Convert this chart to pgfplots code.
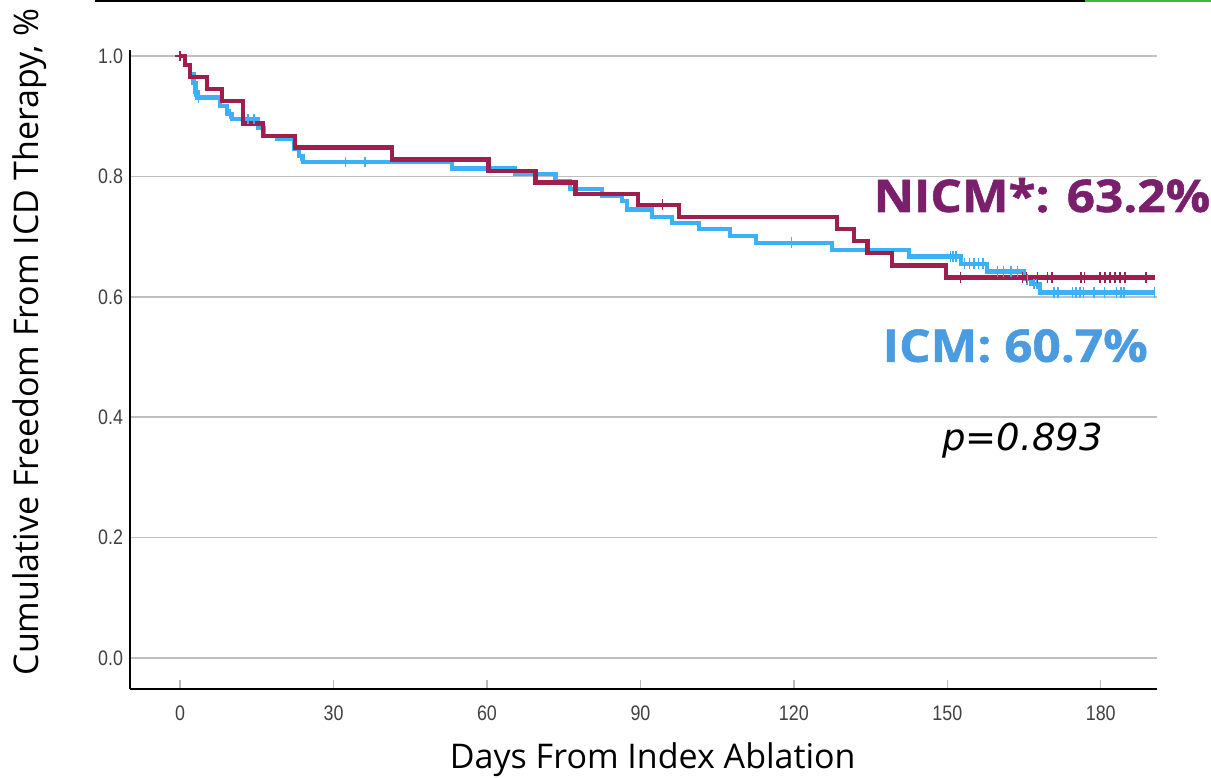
\documentclass[border=0pt]{standalone}
\usepackage{pgfplots}
\pgfplotsset{compat=1.18}
\usepackage{fontspec}
\setmainfont{Open Sans}
\newfontfamily\ticksfont[FakeStretch=0.85]{Liberation Sans}
\newfontfamily\bigfont[FakeStretch=1.1, FakeBold=1.2]{Open Sans}
\newfontfamily\pfont{DejaVu Sans}
\definecolor{nicmline}{HTML}{9E1F4D}
\definecolor{icmline}{HTML}{3DB1F7}
\definecolor{nicmtext}{HTML}{7A1F6C}
\definecolor{icmtext}{HTML}{4A9BE0}
\definecolor{topgreen}{HTML}{3DB83A}
\begin{document}
\begin{tikzpicture}[x=1pt,y=1pt]
\path[use as bounding box] (0,0) rectangle (605.5,388.5);
\draw[black, line width=1pt] (47.5,388) -- (542.5,388);
\draw[topgreen, line width=1pt] (542.5,388) -- (605.5,388);
\begin{axis}[
  at={(65pt,44pt)}, anchor=south west,
  scale only axis, width=513.5pt, height=319.5pt,
  xmin=-9.8, xmax=191, ymin=-0.0516, ymax=1.01,
  axis x line=bottom, axis y line=left,
  axis line style={-, line width=0.7pt, black},
  xtick={0,30,60,90,120,150,180},
  ytick={0,0.2,0.4,0.6,0.8,1.0},
  yticklabel style={/pgf/number format/fixed, /pgf/number format/fixed zerofill, /pgf/number format/precision=1},
  /pgf/number format/assume math mode=true,
  tick label style={font=\ticksfont\fontsize{10.5}{12}\selectfont, text=black!75},
  xticklabel style={yshift=-5pt},
  tick align=inside, major tick length=4.5pt,
  xtick style={draw=gray!55, line width=0.7pt},
  ytick style={draw=none},
  ymajorgrids, grid style={gray!50, line width=0.8pt},
  clip=false,
  xlabel={Days From Index Ablation},
  ylabel={Cumulative Freedom From ICD Therapy, \%},
  xlabel style={at={(axis description cs:0.509,-0.111)}, anchor=center, font=\fontsize{17}{19}\selectfont},
  ylabel style={at={(axis description cs:-0.0974,0.543)}, anchor=center, font=\fontsize{17}{19}\selectfont},
]
% ICM (blue) Kaplan-Meier step curve
\addplot[const plot, icmline, line width=2.1pt] coordinates {
(0,1.0) (1,0.985) (2,0.97) (2.6,0.955) (3,0.94) (3.4,0.931) (7.8,0.917) (9.1,0.904) (10.1,0.895)
(15.3,0.881) (16.3,0.867) (18.9,0.862) (22.2,0.845) (23.2,0.834) (24.1,0.824) (53.2,0.813)
(65.5,0.804) (73.4,0.793) (76.3,0.779) (82.5,0.768) (86.4,0.759) (87.4,0.745) (92.3,0.733)
(96.2,0.723) (101.4,0.712) (107.5,0.701) (112.6,0.690) (127.4,0.678) (142.5,0.667)
(152.6,0.655) (157.8,0.642) (165.0,0.629) (166.3,0.621) (168.2,0.607) (190.6,0.607)
};
\addplot[only marks, mark=|, mark size=2.6pt, icmline, mark options={line width=0.8pt}] coordinates {
(2.8,0.94) (3.6,0.931) (9.8,0.904) (13.3,0.895) (14.5,0.895) (23.5,0.834) (32.3,0.824) (36.2,0.824)
(119.5,0.690) (150.6,0.667) (151.1,0.667) (151.7,0.667) (153.4,0.655) (154.3,0.655) (155.2,0.655)
(156.1,0.655) (157.0,0.655) (159.8,0.642) (161.0,0.642) (162.4,0.642) (163.7,0.642)
(165.6,0.629) (166.9,0.621) (167.5,0.621)
(170.9,0.607) (171.6,0.607) (174.5,0.607) (175.2,0.607) (175.9,0.607) (176.6,0.607) (178.7,0.607)
(180.7,0.607) (183.1,0.607) (184.0,0.607) (184.6,0.607) (190.5,0.607)
};
% NICM (red) Kaplan-Meier step curve
\addplot[const plot, nicmline, line width=2.1pt] coordinates {
(0,1.0) (1,0.985) (1.9,0.965) (5.3,0.945) (8.2,0.925) (12.3,0.888) (16.2,0.867) (22.4,0.848)
(41.4,0.828) (60.3,0.809) (69.5,0.790) (77.3,0.771) (89.5,0.753) (97.5,0.733) (128.5,0.712)
(131.7,0.693) (134.4,0.673) (139.2,0.652) (149.7,0.632) (190.6,0.632)
};
\addplot[only marks, mark=|, mark size=2.6pt, nicmline, mark options={line width=0.8pt}] coordinates {
(0,1.0) (94.3,0.753) (152.6,0.632) (164.7,0.632) (165.5,0.632) (167.6,0.632) (169.6,0.632) (170.5,0.632)
(176.1,0.632) (176.8,0.632) (179.8,0.632) (180.8,0.632) (181.8,0.632) (182.8,0.632) (183.8,0.632)
(184.8,0.632) (188.8,0.632)
};
\addplot[only marks, mark=-, mark size=2.6pt, nicmline, mark options={line width=0.8pt}] coordinates {(0,1.0)};
\node[anchor=base, font=\bigfont\bfseries\fontsize{22.5}{25}\selectfont, text=nicmtext] at (axis description cs:0.888,0.7465) {NICM*: 63.2\%};
\node[anchor=base, font=\bigfont\bfseries\fontsize{22.5}{25}\selectfont, text=icmtext] at (axis description cs:0.862,0.512) {ICM: 60.7\%};
\node[anchor=base, font=\pfont\itshape\fontsize{18.5}{21}\selectfont, text=black] at (axis description cs:0.869,0.3725) {p=0.893};
\end{axis}
\end{tikzpicture}
\end{document}
